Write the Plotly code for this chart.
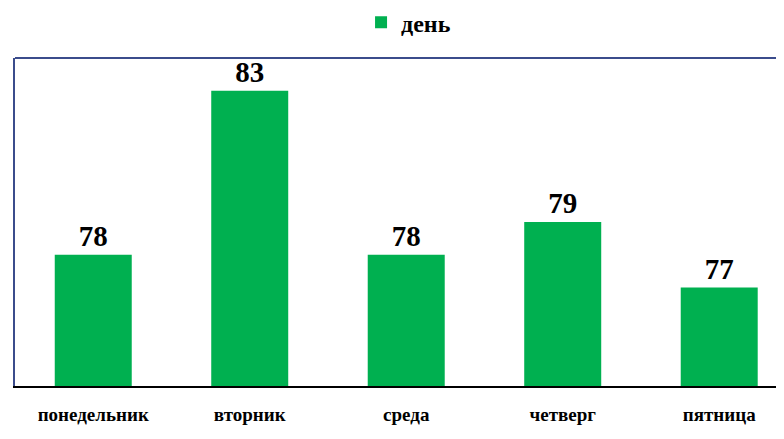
import plotly.graph_objects as go

categories = ["понедельник", "вторник", "среда", "четверг", "пятница"]
values = [78, 83, 78, 79, 77]
series_name = "день"

GREEN = "#00B050"
FONT = "Liberation Serif, Times New Roman, serif"

fig = go.Figure()
fig.add_trace(go.Bar(
    x=categories, y=values, name=series_name,
    marker=dict(color=GREEN, line=dict(width=0)),
    text=[str(v) for v in values], textposition="outside",
    textfont=dict(family=FONT, size=29, color="black", weight="bold"),
    cliponaxis=False,
))

fig.update_layout(
    width=776, height=431,
    margin=dict(l=7, r=0, t=50, b=53),
    paper_bgcolor="white", plot_bgcolor="white",
    showlegend=True,
    legend=dict(orientation="h", x=0.450, xanchor="left", y=0.966, yanchor="middle",
                yref="container", font=dict(family=FONT, size=24, color="black", weight="bold"),
                itemwidth=30, bgcolor="rgba(0,0,0,0)"),
    bargap=0.508,
)
fig.update_xaxes(range=[-0.5, 4.414], showgrid=False, showline=True, linecolor="black",
                 linewidth=2, ticks="", tickfont=dict(family=FONT, size=19, color="black", weight="bold"),
                 ticklabelstandoff=10)
fig.update_yaxes(range=[74, 84], showgrid=False, showticklabels=False, zeroline=False,
                 showline=True, linecolor="#3B4C8C", linewidth=2, ticks="")
fig.add_shape(type="line", xref="paper", yref="paper", x0=0, x1=1, y0=1, y1=1,
              line=dict(color="#3B4C8C", width=2))

fig.write_html("out.html")
